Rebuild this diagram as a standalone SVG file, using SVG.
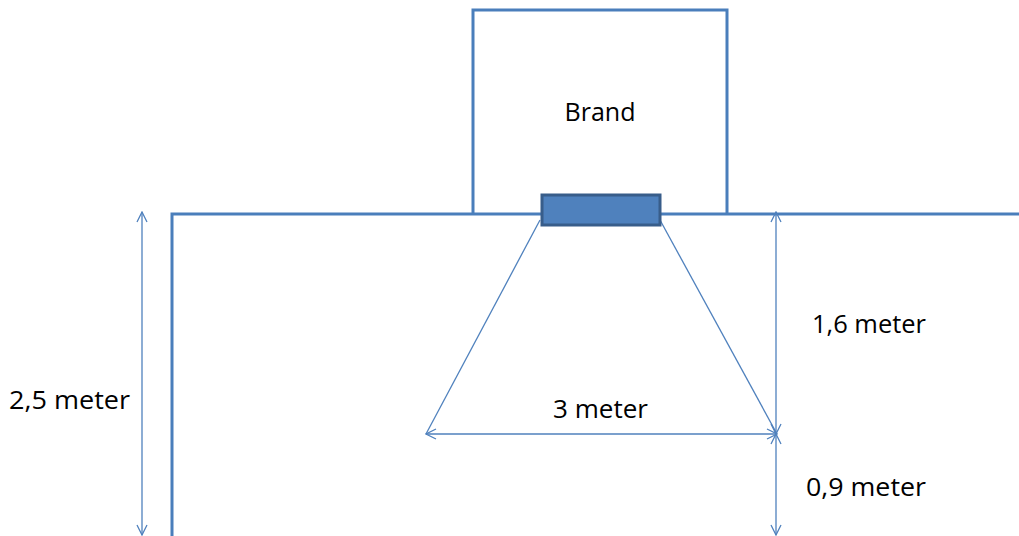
<svg xmlns="http://www.w3.org/2000/svg" width="1019" height="536" viewBox="0 0 1019 536">
<style>
.thick{fill:none;stroke:#4A7EBB;stroke-width:3}
.thin{fill:none;stroke:#4F81BD;stroke-width:1.3}
.lbl{font-family:"Open Sans","Liberation Sans",sans-serif;font-size:26px;fill:#000}
</style>
<defs>
<marker id="arr" viewBox="0 0 12 12" refX="11" refY="6" markerWidth="12" markerHeight="12" markerUnits="userSpaceOnUse" orient="auto-start-reverse">
<path d="M1,1 L11,6 L1,11" fill="none" stroke="#4F81BD" stroke-width="1.3"/>
</marker>
</defs>
<rect width="1019" height="536" fill="#fff"/>
<g id="room">
<path class="thick" d="M172,536 V214 H1019"/>
</g>
<g id="brand">
<path class="thick" d="M473,214 V10 H727 V214"/>
<text class="lbl" x="600" y="121" text-anchor="middle" textLength="71" lengthAdjust="spacingAndGlyphs">Brand</text>
</g>
<g id="connectors">
<line class="thin" x1="540" y1="220" x2="426" y2="434"/>
<line class="thin" x1="660" y1="220" x2="777" y2="434"/>
<line class="thin" x1="426" y1="434" x2="777" y2="434" marker-start="url(#arr)" marker-end="url(#arr)"/>
<line class="thin" x1="142" y1="212" x2="142" y2="535" marker-start="url(#arr)" marker-end="url(#arr)"/>
<line class="thin" x1="776" y1="212" x2="776" y2="434" marker-start="url(#arr)" marker-end="url(#arr)"/>
<line class="thin" x1="776" y1="434" x2="776" y2="535" marker-start="url(#arr)" marker-end="url(#arr)"/>
</g>
<g id="device">
<rect x="542" y="195" width="118" height="30" fill="#4F81BD" stroke="#385D8A" stroke-width="3"/>
</g>
<g id="labels">
<text class="lbl" x="9" y="409" textLength="121" lengthAdjust="spacingAndGlyphs">2,5 meter</text>
<text class="lbl" x="812" y="333" textLength="114" lengthAdjust="spacingAndGlyphs">1,6 meter</text>
<text class="lbl" x="553" y="418" textLength="95" lengthAdjust="spacingAndGlyphs">3 meter</text>
<text class="lbl" x="806" y="496" textLength="120" lengthAdjust="spacingAndGlyphs">0,9 meter</text>
</g>
</svg>
